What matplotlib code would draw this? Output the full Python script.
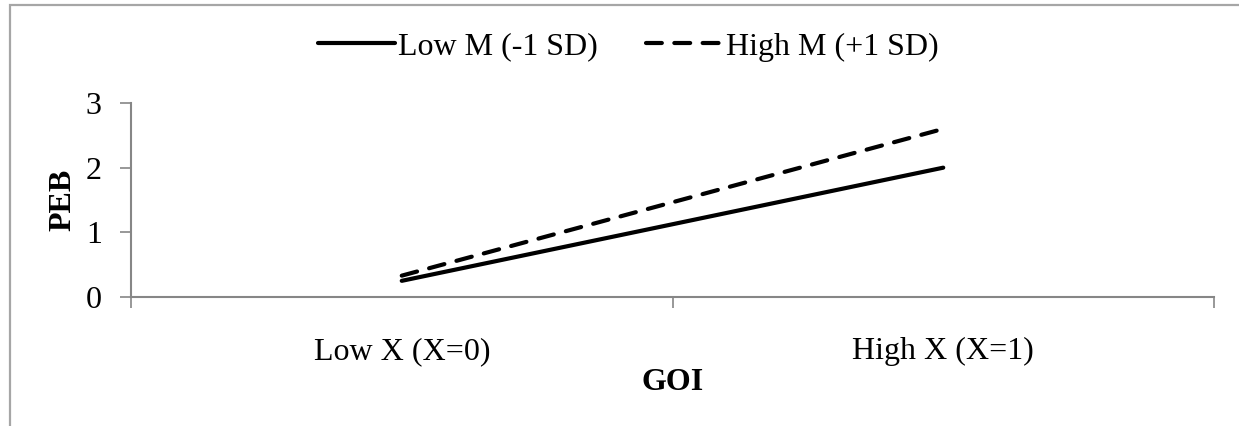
import matplotlib.pyplot as plt
from matplotlib.patches import Rectangle

categories = ['Low X (X=0)', 'High X (X=1)']
low_m = [0.25, 2.0]
high_m = [0.33, 2.6]
series_names = ['Low M (-1 SD)', 'High M (+1 SD)']
yticks = [0, 1, 2, 3]

plt.rcParams['font.family'] = ['Liberation Serif', 'DejaVu Serif']
fs = 23

W, H = 1239, 426
fig = plt.figure(figsize=(W / 100, H / 100), dpi=100)

# chart frame (cropped at right and bottom)
fig.patches.append(Rectangle((10 / W, -0.1), 1.2, 1.1 - 5 / H, transform=fig.transFigure,
                             fill=False, edgecolor='#a6a6a6', linewidth=1.6))

ax = fig.add_axes([131 / W, 129 / H, (1214 - 131) / W, (297 - 103) / H])
axis_col = '#868686'
x = [0.5, 1.5]
ax.plot(x, low_m, color='black', linewidth=3, solid_capstyle='round', label=series_names[0])
ax.plot(x, high_m, color='black', linewidth=3, linestyle=(0, (3.8, 3.0)), dash_capstyle='round',
        label=series_names[1])

ax.set_xlim(0, 2)
ax.set_ylim(0, 3)
ax.set_yticks(yticks)
ax.set_xticks([0, 1, 2])
ax.set_xticks(x, minor=True)
ax.set_xticklabels([])
ax.set_xticklabels(categories, minor=True)
ax.tick_params(axis='x', which='minor', length=0, labelsize=fs, pad=29)
ax.tick_params(axis='x', which='major', length=8, color=axis_col, width=1.2)
ax.tick_params(axis='y', length=8, color=axis_col, width=1.2, labelsize=fs, pad=13)
for s in ['top', 'right']:
    ax.spines[s].set_visible(False)
for s in ['left', 'bottom']:
    ax.spines[s].set_color(axis_col)
    ax.spines[s].set_linewidth(1.5)

ax.set_ylabel('PEB', fontsize=fs, fontweight='bold', labelpad=6)
ax.set_xlabel('GOI', fontsize=fs, fontweight='bold', labelpad=1)

fig.legend(loc='center', bbox_to_anchor=(0.507, 1 - 47 / H), ncol=2, frameon=False,
           fontsize=fs, handlelength=2.4, columnspacing=1.5, handletextpad=0.1)

fig.savefig('out.png', dpi=100)
